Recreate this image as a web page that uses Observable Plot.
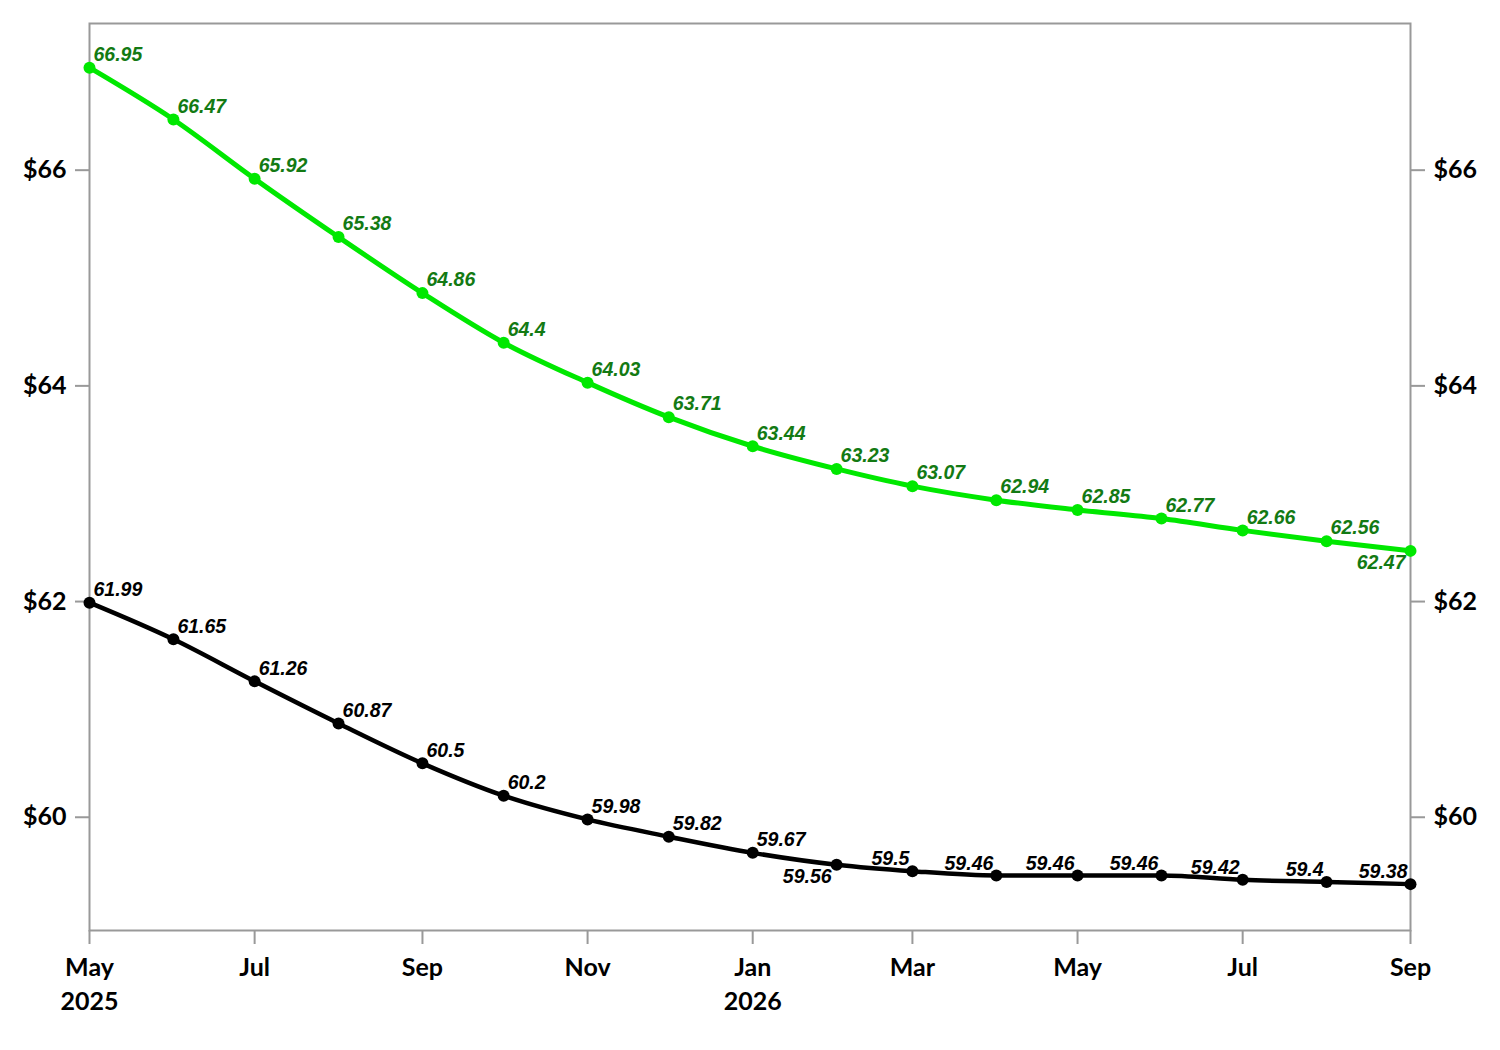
<!DOCTYPE html>
<html>
<head>
<meta charset="utf-8">
<script src="https://cdn.jsdelivr.net/npm/d3@7"></script>
<script src="https://cdn.jsdelivr.net/npm/@observablehq/plot@0.6"></script>
<style>
  html, body { margin: 0; padding: 0; background: #fff; }
  #chart { width: 1500px; height: 1050px; }
</style>
</head>
<body>
<div id="chart"></div>
<script>
const months = ["2025-05","2025-06","2025-07","2025-08","2025-09","2025-10","2025-11","2025-12",
                "2026-01","2026-02","2026-03","2026-04","2026-05","2026-06","2026-07","2026-08","2026-09"];
const greenValues = [66.95,66.47,65.92,65.38,64.86,64.4,64.03,63.71,63.44,63.23,63.07,62.94,62.85,62.77,62.66,62.56,62.47];
const blackValues = [61.99,61.65,61.26,60.87,60.5,60.2,59.98,59.82,59.67,59.56,59.5,59.46,59.46,59.46,59.42,59.4,59.38];
const yTicks = [60, 62, 64, 66];

const parse = d3.utcParse("%Y-%m");
const green = months.map((m, i) => ({date: parse(m), value: greenValues[i], label: String(greenValues[i]), i, s: "g"}));
const black = months.map((m, i) => ({date: parse(m), value: blackValues[i], label: String(blackValues[i]), i, s: "b"}));

// label placement groups
const belowLeft = d => (d.s === "g" && d.i === 16) || (d.s === "b" && d.i === 9);
const aboveLeft = d => d.s === "b" && d.i >= 10;
const aboveRight = d => !belowLeft(d) && !aboveLeft(d);
const all = green.concat(black);

const labelFont = {fontFamily: "Liberation Sans, Arial, sans-serif", fontSize: 19.5, fontWeight: "bold", fontStyle: "italic"};
const labelFill = d => d.s === "g" ? "#137a13" : "#000";

const tickFmt = d => {
  const m = d3.utcFormat("%b")(d);
  const mo = d.getUTCMonth();
  if ((mo === 4 && d.getUTCFullYear() === 2025) || mo === 0) return m + "\n" + d.getUTCFullYear();
  return m;
};

const plot = Plot.plot({
  width: 1500,
  height: 1050,
  marginLeft: 89,
  marginRight: 90,
  marginTop: 23,
  marginBottom: 120,
  style: {fontFamily: "Lato, sans-serif", background: "#fff"},
  x: {type: "utc", domain: [parse("2025-05"), parse("2026-09")]},
  y: {domain: [58.95, 67.36]},
  marks: [
    Plot.axisY(yTicks, {anchor: "left", tickSize: 14, tickPadding: 9, tickFormat: d => "$" + d, fontSize: 25, fontWeight: "bold", label: null}),
    Plot.axisY(yTicks, {anchor: "right", tickSize: 14, tickPadding: 9, tickFormat: d => "$" + d, fontSize: 25, fontWeight: "bold", label: null}),
    Plot.axisX(d3.utcMonth.every(2).range(parse("2025-05"), parse("2026-10")), {tickSize: 14, tickPadding: 7, tickFormat: tickFmt, fontSize: 25, fontWeight: "bold", lineHeight: 1.36, label: null}),
    Plot.frame({stroke: "#999", strokeWidth: 2}),
    Plot.line(green, {x: "date", y: "value", stroke: "#00e800", strokeWidth: 5, curve: "monotone-x"}),
    Plot.line(black, {x: "date", y: "value", stroke: "#000", strokeWidth: 4.5, curve: "monotone-x"}),
    Plot.dot(green, {x: "date", y: "value", fill: "#00e800", r: 6}),
    Plot.dot(black, {x: "date", y: "value", fill: "#000", r: 6}),
    Plot.text(all.filter(aboveRight), {x: "date", y: "value", text: "label", fill: labelFill, textAnchor: "start", dx: 4, dy: -13, ...labelFont}),
    Plot.text(all.filter(aboveLeft), {x: "date", y: "value", text: "label", fill: labelFill, textAnchor: "end", dx: -3, dy: -12, ...labelFont}),
    Plot.text(all.filter(belowLeft), {x: "date", y: "value", text: "label", fill: labelFill, textAnchor: "end", dx: -5, dy: 12, ...labelFont})
  ]
});

d3.select(plot).selectAll('g[aria-label$="tick"]').attr("stroke", "#999").attr("stroke-width", 2);
d3.select(plot).selectAll('g[aria-label$="tick label"]').attr("fill", "#000");
document.getElementById("chart").appendChild(plot);
</script>
</body>
</html>
